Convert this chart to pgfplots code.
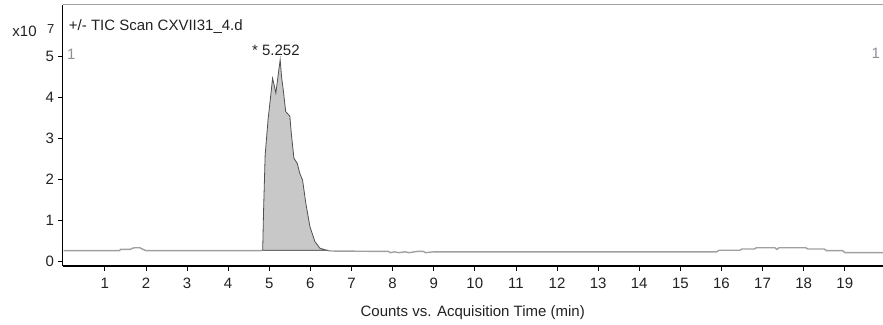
\documentclass[border=0pt]{standalone}
\usepackage{pgfplots}
\pgfplotsset{compat=1.18}
\usepackage{fontspec}
\setmainfont{Liberation Sans}
\definecolor{basegray}{HTML}{A0A0A0}
\definecolor{peakfill}{HTML}{C8C8C8}
\definecolor{peakline}{HTML}{505050}
\definecolor{txt}{HTML}{222222}
\definecolor{onegray}{HTML}{8A8F98}
\newcommand{\bigf}{\fontsize{15bp}{18bp}\selectfont}
\begin{document}
\begin{tikzpicture}[font=\bigf]
\begin{axis}[
  scale only axis,
  width=820.5bp, height=261.5bp,
  xmin=-0.03, xmax=19.93,
  ymin=-0.105, ymax=6.27,
  axis x line=bottom, axis y line=left,
  axis line style={black, line width=1.6bp, -},
  xtick={1,2,...,19},
  ytick={0,1,2,3,4,5},
  tick align=outside,
  major tick length=5bp,
  tick style={black, line width=0.8bp},
  /pgf/number format/assume math mode=true,
  ticklabel style={font=\bigf, text=txt},
  xticklabel style={yshift=-4bp},
  xlabel={Counts vs. Acquisition Time (min)},
  every axis x label/.style={at={(axis description cs:0.5,0)}, anchor=north, yshift=-36bp, text=txt, font=\bigf},
  clip=false,
]
\coordinate (bl) at (rel axis cs:0,0);
\coordinate (tr) at (rel axis cs:1,1);
\draw[basegray, line width=1.6bp] (rel axis cs:0,1) -- (rel axis cs:1,1);

\addplot[basegray, line width=1.4bp] table {
x y
0 0.27
1.36 0.27
1.38 0.30
1.62 0.30
1.65 0.32
1.72 0.34
1.85 0.34
1.93 0.30
2.0 0.27
4.80 0.27
4.84 0.28
6.39 0.28
6.5 0.26
7.9 0.25
7.95 0.22
8.05 0.24
8.15 0.22
8.3 0.24
8.4 0.22
8.6 0.25
8.75 0.25
8.8 0.22
9.0 0.24
15.88 0.24
15.95 0.28
16.45 0.28
16.5 0.31
16.8 0.31
16.85 0.34
17.3 0.34
17.35 0.30
17.4 0.34
18.05 0.34
18.1 0.31
18.5 0.31
18.55 0.27
18.95 0.27
19.0 0.22
19.93 0.22
};

\addplot[fill=peakfill, draw=peakline, line width=0.8bp] table {
x y
4.84 0.28
4.86 1.2
4.90 2.6
4.97 3.46
5.03 4.0
5.08 4.47
5.12 4.3
5.16 4.11
5.21 4.5
5.265 4.92
5.30 4.5
5.34 4.19
5.40 3.66
5.50 3.55
5.54 3.09
5.60 2.52
5.68 2.40
5.74 2.16
5.81 1.99
5.89 1.42
5.99 0.85
6.11 0.49
6.23 0.33
6.39 0.28
4.84 0.28
};

\node[anchor=base east, inner sep=0pt, text=txt, font=\bigf] at (axis cs:4.36,5.644) {+/- TIC Scan CXVII31\_4.d};
\node[anchor=base west, inner sep=0pt, text=onegray, font=\bigf] at (axis cs:0.075,4.93) {1};
\node[anchor=base east, inner sep=0pt, text=onegray, font=\bigf] at (axis cs:19.86,4.96) {1};
\node[anchor=base, inner sep=0pt, text=txt, font=\bigf] at (axis cs:5.16,5.02) {* 5.252};
\node[anchor=base east, inner sep=0pt, text=txt, font=\bigf] at (axis cs:-0.654,5.49) {x10};
\node[anchor=base west, inner sep=0pt, text=txt, font=\fontsize{13bp}{15bp}\selectfont] at (axis cs:-0.41,5.566) {7};
\end{axis}
\pgfresetboundingbox
\path ([xshift=-62.5bp,yshift=-59bp]bl) rectangle ([yshift=4.5bp]tr);
\end{tikzpicture}
\end{document}
